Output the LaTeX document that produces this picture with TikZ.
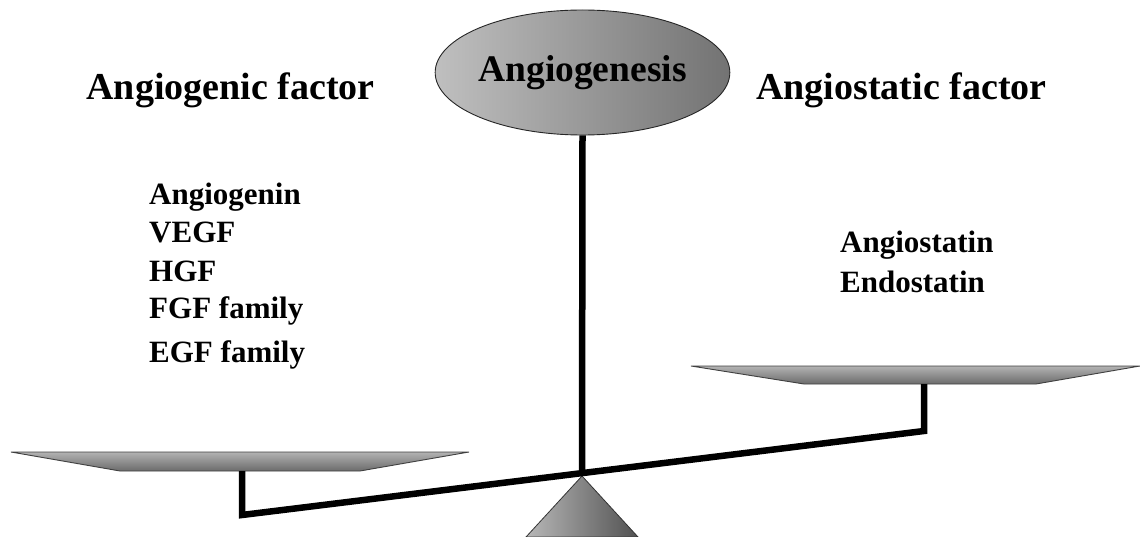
\documentclass[tikz,border=0pt]{standalone}
\usepackage{fontspec}
\setmainfont{Liberation Serif}
\usetikzlibrary{shapes.geometric}
\tikzset{
  bar/.style={line width=6.5pt, line join=miter, line cap=butt, black},
  panshape/.style={draw=black!75, line width=0.9pt, top color=black!30, bottom color=black!58},
  title/.style={font=\fontsize{38}{41}\selectfont\bfseries, inner sep=0pt, anchor=base},
  item/.style={font=\fontsize{31}{34}\selectfont\bfseries, inner sep=0pt, anchor=base west},
}
\begin{document}
\begin{tikzpicture}[x=1pt, y=-1pt]
\useasboundingbox (0,0) rectangle (1140,537);
% fulcrum
\coordinate (pivot) at (582,473);
\coordinate (apex) at (582,476);
\path[draw=black!80, line width=0.8pt, left color=black!28, right color=black!68]
  (apex) -- (638,537) -- (526,537) -- cycle;
% left pan
\coordinate (lh) at (242,471);
\coordinate (lb) at (242,515);
\path[panshape] (11,452) -- (469,452) -- (360,471) -- (120,471) -- cycle;
% right pan
\coordinate (rh) at (924,384);
\coordinate (rb) at (924,431);
\path[panshape] (691,366) -- (1140,366) -- (1036,384) -- (804,384) -- cycle;
% beam with hangers
\draw[bar] (lh) -- (lb) -- (rb) -- (rh);
% ellipse
\node[ellipse, draw=black!85, line width=0.9pt, minimum width=249pt, minimum height=125pt,
      inner sep=0pt, left color=black!25, right color=black!55,
      font=\fontsize{37.5}{40}\selectfont\bfseries] (ang) at (582.5,72.5) {Angiogenesis};
\draw[bar] (ang.south) -- (pivot);
% titles
\node[title] (tl) at (230.5,100) {Angiogenic factor};
\node[title] (tr) at (901.5,100) {Angiostatic factor};
% left list
\node[item] (l1) at (149,205) {Angiogenin};
\node[item] (l2) at (149,243) {VEGF};
\node[item] (l3) at (149,281) {HGF};
\node[item] (l4) at (149,318) {FGF family};
\node[item] (l5) at (149,362) {EGF family};
% right list
\node[item] (r1) at (840,253) {Angiostatin};
\node[item] (r2) at (840,293) {Endostatin};
\end{tikzpicture}
\end{document}
